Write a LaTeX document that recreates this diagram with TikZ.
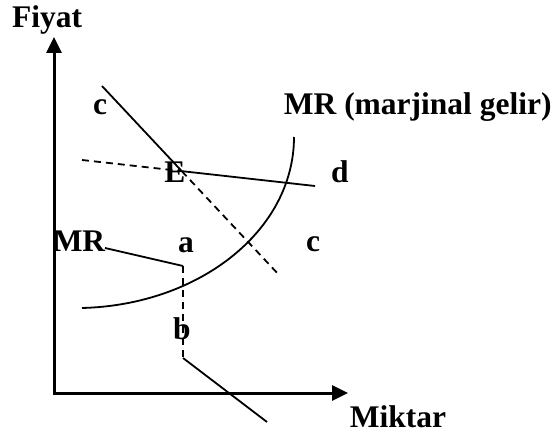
\documentclass[tikz,border=0pt]{standalone}
\usepackage{fontspec}
\setmainfont{Liberation Serif}
\usetikzlibrary{arrows.meta}
\begin{document}
\begin{tikzpicture}[x=1pt, y=-1pt, line width=1.8pt, font=\fontsize{31.5}{32}\selectfont\bfseries,
    lbl/.style={anchor=base, inner sep=0pt}, dsh/.style={dash pattern=on 7pt off 5pt}]
    \useasboundingbox (0,0) rectangle (554,435);
    % axes
    \coordinate (O) at (54,393);
    \coordinate (ytop) at (54,37);
    \coordinate (xend) at (348,393);
    \draw[line width=3pt, {Triangle[width=15pt,length=16pt]}-{Triangle[width=15pt,length=16pt]}] (ytop) -- (O) -- (xend);
    \node (fiyat) [lbl] at (47,28) {Fiyat};
    \node (miktar) [lbl] at (398,427) {Miktar};

    % labels
    \node (c1) [lbl] at (100,115) {c};
    \node (E) [lbl] at (175,183) {E};
    \node (d) [lbl] at (340,183) {d};
    \node (mrgelir) [lbl, anchor=base west] at (283,115) {MR (marjinal gelir)};
    \node (mr) [lbl] at (79,252) {MR};
    \node (a) [lbl] at (186,253) {a};
    \node (b) [lbl] at (182,340) {b};
    \node (c2) [lbl] at (313,252) {c};

    % c line and d line, crossing at E
    \coordinate (cs) at (102,86);
    \coordinate (ce) at (280,276);
    \coordinate (ds) at (82,160);
    \coordinate (de) at (315,186);
    \coordinate (Ex) at (intersection of cs--ce and ds--de);
    \draw (cs) -- (Ex);
    \draw[dsh] (Ex) -- (ce);
    \draw[dsh] (ds) -- (Ex);
    \draw (Ex) -- (de);

    % MR (marjinal gelir) curve
    \coordinate (mrs) at (82,308);
    \coordinate (mre) at (294,137);
    \draw (mrs) .. controls (200,305) and (294,230) .. (mre);

    % kinked MR line
    \coordinate (k1) at (105,248);
    \coordinate (k2) at (183,266);
    \coordinate (k3) at (183,358);
    \coordinate (k4) at (267,422);
    \draw (k1) -- (k2);
    \draw[dsh] (k2) -- (k3);
    \draw (k3) -- (k4);
\end{tikzpicture}
\end{document}
